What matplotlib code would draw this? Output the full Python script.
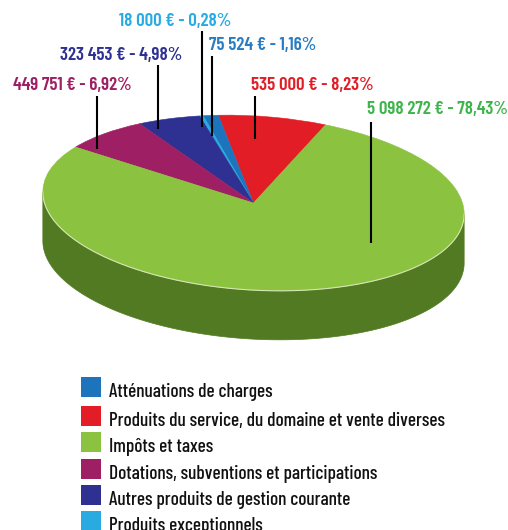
import numpy as np
import matplotlib
matplotlib.use("Agg")
import matplotlib.pyplot as plt
from matplotlib.patches import Wedge, Polygon, Rectangle
from matplotlib.transforms import Affine2D

# ---------------- data ----------------
categories = [
    "Atténuations de charges",
    "Produits du service, du domaine et vente diverses",
    "Impôts et taxes",
    "Dotations, subventions et participations",
    "Autres produits de gestion courante",
    "Produits exceptionnels",
]
amounts = [75524, 535000, 5098272, 449751, 323453, 18000]
percents = [1.16, 8.23, 78.43, 6.92, 4.98, 0.28]

# ---------------- style / layout ----------------
colors = ["#1c75bc", "#e31d25", "#8bc240", "#9e1f63", "#2e3192", "#29abe2"]
label_colors = ["#2a7cc2", "#e31d25", "#3db54a", "#9e1f63", "#2e3192", "#29abe2"]
side_color = "#527a22"
pie_order = [1, 0, 5, 4, 3, 2]      # counter-clockwise drawing order
start_angle = 71.5
cx, cy, ra, rb, rot, depth = 253.5, 203.0, 211.0, 87.0, 3.6, 49.0

label_pos = [(263, 46), (312, 85), (437, 110), (72, 85), (121, 55), (175, 22)]
leader = [(212, 56, 136), (255, 96, 139), (371, 122, 243),
          (97, 96, 149), (158, 65, 129), (202, 31, 127)]
legend_x, legend_box = 81, 20
legend_rows = [387, 416, 442, 469, 495, 521]

plt.rcParams["font.family"] = ["Barlow Condensed", "DejaVu Sans"]

fig = plt.figure(figsize=(5.08, 5.30), dpi=100)
ax = fig.add_axes([0, 0, 1, 1])
ax.set_xlim(0, 508)
ax.set_ylim(530, 0)
ax.axis("off")

base = Affine2D().scale(ra, -rb).rotate_deg(rot).translate(cx, cy)
T = base + ax.transData

# side wall (front half of the ellipse)
t0 = np.arctan((rb / ra) * np.tan(np.radians(rot))) + np.pi
ts = np.linspace(t0, t0 + np.pi, 300)
top = base.transform(np.c_[np.cos(ts), np.sin(ts)])
bot = top + np.array([0, depth])
ax.add_patch(Polygon(np.vstack([top, bot[::-1]]), closed=True,
                     facecolor=side_color, edgecolor=side_color, lw=0.5, zorder=1))

# top face wedges
total = float(sum(amounts))
ang = start_angle
for i in pie_order:
    sweep = amounts[i] / total * 360.0
    w = Wedge((0, 0), 1.0, ang, ang + sweep, facecolor=colors[i],
              edgecolor=colors[i], lw=0.4, transform=T, zorder=2)
    ax.add_patch(w)
    ang += sweep

# light rim line on the front edge
ax.plot(top[:, 0], top[:, 1], color="#d6e6b4", lw=0.8, zorder=3)

# labels and leader lines
def fmt_amount(v):
    return f"{v:,}".replace(",", " ")

for i in range(len(categories)):
    txt = f"{fmt_amount(amounts[i])} € - {percents[i]:.2f}%".replace(".", ",")
    x, y = label_pos[i]
    ax.text(x, y, txt, color=label_colors[i], fontsize=13.6, fontweight=600,
            ha="center", va="center", zorder=5)
    lx, ly0, ly1 = leader[i]
    ax.plot([lx, lx], [ly0, ly1], color="black", lw=1.5, zorder=4,
            solid_capstyle="butt")

# legend
for i, yc in enumerate(legend_rows):
    ax.add_patch(Rectangle((legend_x, yc - legend_box / 2), legend_box, legend_box,
                           facecolor=colors[i], edgecolor="none", zorder=5))
    ax.text(legend_x + 28, yc + legend_box / 2, categories[i], fontsize=13.9,
            fontweight=500, color="#111111", ha="left", va="baseline", zorder=5)

fig.savefig("out.png", dpi=100)
